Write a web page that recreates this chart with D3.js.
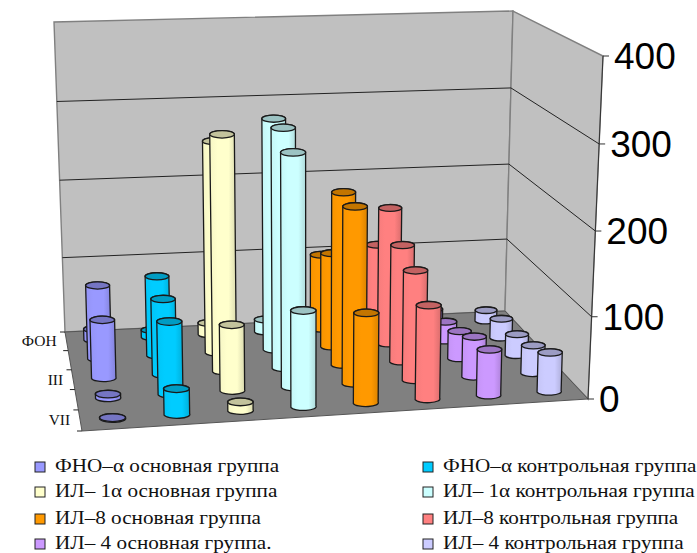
<!DOCTYPE html>
<html>
<head>
<meta charset="utf-8">
<script src="https://cdn.jsdelivr.net/npm/d3@7"></script>
<style>
  body { margin: 0; background: #fff; }
  svg { display: block; }
</style>
</head>
<body>
<div id="chart"></div>
<script>
// Chart data
const categories = ["ФОН", "I", "III", "V", "VII"];
const shownCategories = ["ФОН", "III", "VII"];
const seriesNames = [
  "ФНО–α основная группа", "ФНО–α контрольная группа",
  "ИЛ– 1α основная группа", "ИЛ– 1α контрольная группа",
  "ИЛ–8 основная группа", "ИЛ–8 контрольная группа",
  "ИЛ– 4 основная группа.", "ИЛ– 4 контрольная группа"
];
const seriesColors = ["#9999ff", "#00ccff", "#ffffcc", "#ccffff", "#ff9900", "#ff8080", "#cc99ff", "#ccccff"];
const tnfMain = [15, 95, 74, 5, 1];
const tnfControl = [10, 103, 96, 90, 32];
const il1Main = [16, 268, 292, 82, 11];
const il1Control = [17, 293, 297, 283, 116];
const il8Main = [100, 122, 216, 216, 109];
const il8Control = [110, 176, 148, 136, 114];
const il4Main = [20, 26, 36, 51, 57];
const il4Control = [15, 26, 28, 36, 49];
const seriesValues = [tnfMain, tnfControl, il1Main, il1Control, il8Main, il8Control, il4Main, il4Control];
const valueTicks = [0, 100, 200, 300, 400];

const width = 697;
const height = 553;

const svg = d3.select("#chart").append("svg")
  .attr("width", width)
  .attr("height", height)
  .style("font-family", "'Liberation Serif'");

// Frame of the 3D box on the page: back-left, back-right, front-right, front-left
const floorCorners = [[65, 332], [505, 311], [588, 399], [82, 431]];
const ceilCorners = [[54, 22], [513, 11], [603, 56], [66, 79]];

// Maps the unit square onto a quad, half way between perspective and bilinear
function quadMap(q) {
  const [[x0, y0], [x1, y1], [x2, y2], [x3, y3]] = q;
  const dx1 = x1 - x2, dx2 = x3 - x2, sx = x0 - x1 + x2 - x3;
  const dy1 = y1 - y2, dy2 = y3 - y2, sy = y0 - y1 + y2 - y3;
  const det = dx1 * dy2 - dx2 * dy1;
  const g = (sx * dy2 - dx2 * sy) / det;
  const h = (dx1 * sy - sx * dy1) / det;
  const a = x1 - x0 + g * x1, b = x3 - x0 + h * x3;
  const d = y1 - y0 + g * y1, e = y3 - y0 + h * y3;
  return (u, v) => {
    const w = g * u + h * v + 1;
    const bx = (1 - v) * ((1 - u) * x0 + u * x1) + v * ((1 - u) * x3 + u * x2);
    const by = (1 - v) * ((1 - u) * y0 + u * y1) + v * ((1 - u) * y3 + u * y2);
    return [((a * u + b * v + x0) / w + bx) / 2, ((d * u + e * v + y0) / w + by) / 2];
  };
}
const floorMap = quadMap(floorCorners);
const ceilMap = quadMap(ceilCorners);

const xScale = d3.scaleBand().domain(d3.range(seriesNames.length)).range([0, 1]);
const zScale = d3.scaleBand().domain(categories).range([0, 1]);
const yScale = d3.scalePow().exponent(1.03).domain([0, 400]).range([0, 1]);

// u across, v from back to front, value up
function project(u, v, value) {
  const a = floorMap(u, v), b = ceilMap(u, v), t = yScale(value);
  return [a[0] + (b[0] - a[0]) * t, a[1] + (b[1] - a[1]) * t];
}

// Cylinders stand almost upright, leaning away from the middle of the box
const leanCentre = 310;
const leanRate = 0.04;
function projectBar(u, v, value) {
  const a = floorMap(u, v), t = yScale(value);
  return [a[0] + (a[0] - leanCentre) * leanRate * t, project(u, v, value)[1]];
}

const poly = pts => "M" + pts.map(p => p.join(",")).join("L") + "Z";

// Walls and floor
const walls = svg.append("g");
walls.append("path")
  .attr("d", poly([project(0, 0, 0), project(1, 0, 0), project(1, 0, 400), project(0, 0, 400)]))
  .attr("fill", "#c0c0c0").attr("stroke", "#808080").attr("stroke-width", 1.4);
walls.append("path")
  .attr("d", poly([project(1, 0, 0), project(1, 1, 0), project(1, 1, 400), project(1, 0, 400)]))
  .attr("fill", "#c0c0c0").attr("stroke", "#808080").attr("stroke-width", 1.4);
walls.append("path")
  .attr("d", poly([project(0, 0, 0), project(1, 0, 0), project(1, 1, 0), project(0, 1, 0)]))
  .attr("fill", "#808080").attr("stroke", "#555").attr("stroke-width", 1);

// Gridlines run along the back wall and then the right wall
walls.selectAll(".grid")
  .data(valueTicks.filter(d => d > 0 && d < 400))
  .join("path")
  .attr("class", "grid")
  .attr("d", d => "M" + [project(0, 0, d), project(1, 0, d), project(1, 1, d)].map(p => p.join(",")).join("L"))
  .attr("fill", "none")
  .attr("stroke", "#222")
  .attr("stroke-width", 1);

// Value axis on the front right corner
const axis = svg.append("g");
axis.append("path")
  .attr("d", "M" + project(1, 1, 0).join(",") + "L" + project(1, 1, 400).join(","))
  .attr("stroke", "#333").attr("fill", "none");
valueTicks.forEach(d => {
  const [x, y] = project(1, 1, d);
  axis.append("line")
    .attr("x1", x).attr("x2", x + 6).attr("y1", y).attr("y2", y)
    .attr("stroke", "#333").attr("stroke-width", 1);
  axis.append("text")
    .attr("x", x + 11).attr("y", y + 13)
    .style("font-family", "'Liberation Sans'")
    .style("font-size", "37px")
    .attr("fill", "#000")
    .text(d);
});

// Category axis on the front left edge
const catAxis = svg.append("g");
d3.range(categories.length + 1).forEach(i => {
  const [x, y] = project(0, i / categories.length, 0);
  catAxis.append("line")
    .attr("x1", x - 5).attr("x2", x).attr("y1", y).attr("y2", y)
    .attr("stroke", "#222").attr("stroke-width", 1);
});
categories.filter(c => shownCategories.includes(c)).forEach(c => {
  const [x, y] = project(0, zScale(c) + zScale.bandwidth() / 2, 0);
  catAxis.append("text")
    .attr("x", x - 10).attr("y", y + 5)
    .attr("text-anchor", "end")
    .style("font-size", "15.5px")
    .attr("fill", "#111")
    .text(c);
});

// One horizontal gradient per series for the cylinder shading
const defs = svg.append("defs");
seriesColors.forEach((c, i) => {
  const g = defs.append("linearGradient").attr("id", "cyl" + i);
  const base = d3.color(c);
  g.append("stop").attr("offset", "0%").attr("stop-color", base.darker(0.1));
  g.append("stop").attr("offset", "30%").attr("stop-color", base);
  g.append("stop").attr("offset", "70%").attr("stop-color", base);
  g.append("stop").attr("offset", "100%").attr("stop-color", base.darker(0.45));
});

// Flat list of cylinders, painted from back to front
const cylinders = [];
categories.forEach((c, r) => {
  seriesValues.forEach((vals, s) => {
    cylinders.push({ r, s, value: vals[r], cat: c });
  });
});

const radiusU = xScale.bandwidth() * 0.2;
const flatten = 0.3;

const bars = svg.append("g");
cylinders.forEach(d => {
  const u = xScale(d.s) + xScale.bandwidth() / 2;
  const v = zScale(d.cat) + zScale.bandwidth() / 2;
  const b0 = projectBar(u - radiusU, v, 0), b1 = projectBar(u + radiusU, v, 0);
  const t0 = projectBar(u - radiusU, v, d.value), t1 = projectBar(u + radiusU, v, d.value);
  const rxB = (b1[0] - b0[0]) / 2, rxT = (t1[0] - t0[0]) / 2;
  const ryB = rxB * flatten, ryT = rxT * flatten;
  const body = `M${b0}L${t0}A${rxT},${ryT} 0 0 1 ${t1}L${b1}A${rxB},${ryB} 0 0 1 ${b0}Z`;
  bars.append("path")
    .attr("d", body)
    .attr("fill", `url(#cyl${d.s})`)
    .attr("stroke", "#1a1a1a")
    .attr("stroke-width", 1.3);
  bars.append("ellipse")
    .attr("cx", (t0[0] + t1[0]) / 2)
    .attr("cy", (t0[1] + t1[1]) / 2)
    .attr("rx", rxT)
    .attr("ry", ryT)
    .attr("fill", d3.color(seriesColors[d.s]).darker(0.75))
    .attr("stroke", "#1a1a1a")
    .attr("stroke-width", 1.3);
});

// Legend, two columns of four rows; the text is a little wider than tall
const legendX = [35, 423];
const legendY = [467, 492, 519, 544];
const legendStretch = 1.115;
const legend = svg.append("g");
seriesNames.forEach((name, i) => {
  const col = i % 2, row = Math.floor(i / 2);
  legend.append("rect")
    .attr("x", legendX[col]).attr("y", legendY[row] - 5)
    .attr("width", 10).attr("height", 10)
    .attr("fill", seriesColors[i])
    .attr("stroke", "#222")
    .attr("stroke-width", 1);
  legend.append("text")
    .attr("transform", `translate(${legendX[col] + 20},${legendY[row] + 5}) scale(${legendStretch},1)`)
    .style("font-size", "19px")
    .attr("fill", "#111")
    .text(name);
});
</script>
</body>
</html>
